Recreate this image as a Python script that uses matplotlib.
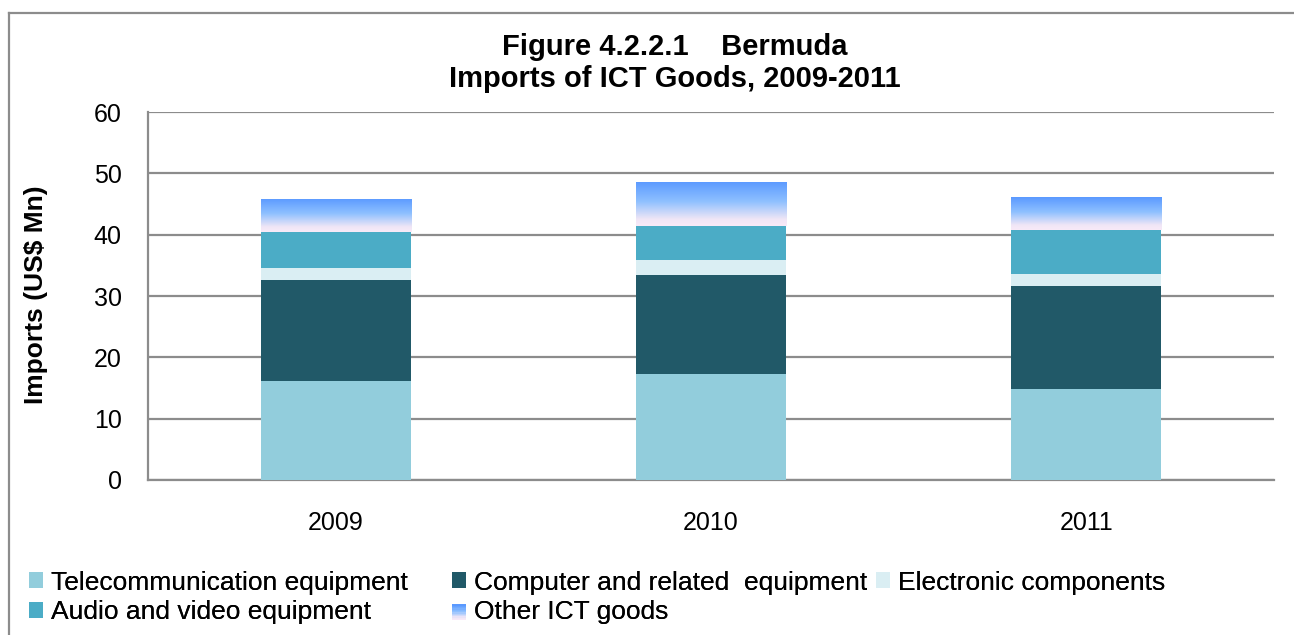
import numpy as np
import matplotlib.pyplot as plt
from matplotlib.colors import LinearSegmentedColormap
from matplotlib.legend_handler import HandlerBase
from matplotlib.patches import Rectangle
from matplotlib.lines import Line2D

plt.rcParams['font.family'] = ['Liberation Sans', 'DejaVu Sans']

years = ['2009', '2010', '2011']
telecom = [16.1, 17.3, 14.8]
computer = [16.5, 16.1, 16.8]
electronic = [2.0, 2.5, 2.0]
audio = [5.8, 5.5, 7.2]
other = [5.4, 7.2, 5.3]

labels = ['Telecommunication equipment', 'Computer and related  equipment',
          'Electronic components', 'Audio and video equipment', 'Other ICT goods']
colors = ['#92cddc', '#215968', '#daeef3', '#4bacc6']

grad = LinearSegmentedColormap.from_list(
    'other', [(0.0, '#f8eaf8'), (0.15, '#f0e6f6'), (0.55, '#8ec0ff'), (1.0, '#5a99ff')])

fig = plt.figure(figsize=(12.94, 6.35), dpi=100)
ax = fig.add_axes([0.1144, 0.2441, 0.8701, 0.5795])

x = np.arange(len(years))
w = 0.4
bottom = np.zeros(3)
handles = []
for vals, c, lab in zip([telecom, computer, electronic, audio], colors, labels[:4]):
    b = ax.bar(x, vals, w, bottom=bottom, color=c, label=lab, zorder=3)
    handles.append(b)
    bottom += np.array(vals)

# other ICT goods: gradient fill clipped to the bars
ob = ax.bar(x, other, w, bottom=bottom, color='none', label=labels[4], zorder=3)
gimg = np.linspace(0, 1, 256).reshape(-1, 1)
for p in ob.patches:
    x0, y0 = p.get_x(), p.get_y()
    im = ax.imshow(gimg, cmap=grad, origin='lower', aspect='auto',
                   extent=[x0, x0 + p.get_width(), y0, y0 + p.get_height()], zorder=3)
    im.set_clip_path(p)
handles.append(ob)

ax.set_xlim(-0.5, 2.5)
ax.set_ylim(0, 60)
ax.set_yticks(range(0, 61, 10))
ax.set_xticks(x)
ax.set_xticklabels(years)
ax.tick_params(axis='y', length=0, pad=19, labelsize=18)
ax.tick_params(axis='x', length=0, pad=22, labelsize=18)
ax.yaxis.grid(True, color='#8c8c8c', linewidth=1.6, zorder=0)
for s in ['top', 'right']:
    ax.spines[s].set_visible(False)
for s in ['left', 'bottom']:
    ax.spines[s].set_color('#8c8c8c')
    ax.spines[s].set_linewidth(1.6)

fig.text(36 / 1294, 1 - 295 / 635, 'Imports (US$ Mn)', rotation=90,
         ha='center', va='center', fontsize=19, fontweight='bold')

fig.text(0.5216, 1 - 63 / 635, 'Figure 4.2.2.1    Bermuda\nImports of ICT Goods, 2009-2011',
         ha='center', va='center', fontsize=21, fontweight='bold', linespacing=1.15)


class GradHandler(HandlerBase):
    def create_artists(self, legend, orig, xd, yd, width, height, fontsize, trans):
        arts = []
        n = 12
        for i in range(n):
            r = Rectangle((xd, yd + height * i / n), width, height / n + 0.3,
                          facecolor=grad(i / (n - 1)), edgecolor='none', transform=trans)
            arts.append(r)
        return arts


# legend laid out row by row, one legend per column
cols = [[0, 3], [1, 4], [2]]
col_x = [5, 428, 852]
for idx, cx in zip(cols, col_x):
    leg = fig.legend([handles[i] for i in idx], [labels[i] for i in idx], ncol=1,
                     loc='upper left', bbox_to_anchor=(cx / 1294, 1 - 547 / 635),
                     frameon=False, fontsize=19, handlelength=0.55, handleheight=0.55,
                     handletextpad=0.3, labelspacing=0.2,
                     handler_map={ob: GradHandler()})
    fig.add_artist(leg)

# outer frame
fig.add_artist(Line2D([9 / 1294, 9 / 1294], [0, 1 - 13 / 635], color='#8c8c8c', lw=1.6))
fig.add_artist(Line2D([9 / 1294, 1], [1 - 13 / 635, 1 - 13 / 635], color='#8c8c8c', lw=1.6))

fig.savefig('out.png', dpi=100)
